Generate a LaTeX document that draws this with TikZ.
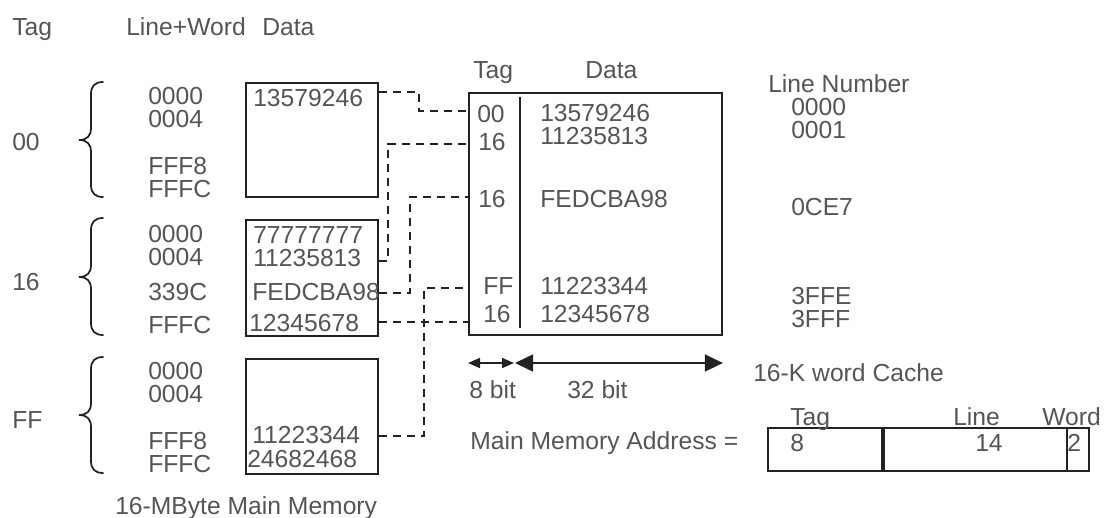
\documentclass[tikz,border=0pt]{standalone}
\usepackage{fontspec}
\setmainfont{Liberation Sans}
\usetikzlibrary{arrows.meta}
\definecolor{ink}{HTML}{555555}
\definecolor{rule}{HTML}{222222}

% left curly brace: top y, tip y, bottom y
\newcommand\curlybrace[3]{%
  \draw[brace] (103,#1) .. controls (95,#1) and (91,#1+4) .. (91,#1+12)
    -- (91,#2-12) .. controls (91,#2-4) and (87,#2) .. (79,#2)
    .. controls (87,#2) and (91,#2+4) .. (91,#2+12)
    -- (91,#3-12) .. controls (91,#3-4) and (95,#3) .. (103,#3);}

\begin{document}
\begin{tikzpicture}[x=0.75pt,y=-0.75pt,
  lbl/.style={anchor=base west, inner sep=0pt, text=ink,
              font=\fontsize{18.5}{20}\selectfont},
  frame/.style={draw=rule, line width=1.4pt, inner sep=0pt, anchor=north west},
  link/.style={draw=rule, line width=1.3pt, dash pattern=on 6pt off 4.5pt},
  brace/.style={draw=rule, line width=1.3pt, line cap=round},
  span/.style={draw=rule, line width=1.2pt},
]
\useasboundingbox[fill=white] (0,0) rectangle (1104,518);

% ---------- column headings ----------
\node[lbl] (hTag)  at (12,35)  {Tag};
\node[lbl] (hLW)   at (126,35) {Line+Word};
\node[lbl] (hData) at (262,35) {Data};

% ---------- tag groups with braces ----------
\node[lbl] (g00) at (12,150) {00};
\node[lbl] (g16) at (12,290) {16};
\node[lbl] (gFF) at (12,428) {FF};
\curlybrace{82}{140}{197}
\curlybrace{218}{277}{335}
\curlybrace{357}{415}{473}

% line+word addresses
\node[lbl] (a1) at (148,104) {0000};
\node[lbl] (a2) at (148,127) {0004};
\node[lbl] (a3) at (148,174) {FFF8};
\node[lbl] (a4) at (148,197) {FFFC};
\node[lbl] (b1) at (148,242) {0000};
\node[lbl] (b2) at (148,265) {0004};
\node[lbl] (b3) at (148,300) {339C};
\node[lbl] (b4) at (148,333) {FFFC};
\node[lbl] (e1) at (148,379) {0000};
\node[lbl] (e2) at (148,402) {0004};
\node[lbl] (e3) at (148,449) {FFF8};
\node[lbl] (e4) at (148,472) {FFFC};

% ---------- main memory blocks ----------
\node[frame, minimum width=99pt, minimum height=85.5pt] (m1) at (245,82) {};
\node[frame, minimum width=99pt, minimum height=87pt]   (m2) at (245,219) {};
\node[frame, minimum width=99pt, minimum height=86.25pt] (m3) at (245,358) {};

\node[lbl] (d1) at (253,106) {13579246};
\node[lbl] (d2) at (253,243) {77777777};
\node[lbl] (d3) at (253,266) {11235813};
\node[lbl] (d4) at (252,300) {FEDCBA98};
\node[lbl] (d5) at (249,331) {12345678};
\node[lbl] (d6) at (252,443) {11223344};
\node[lbl] (d7) at (247,467) {24682468};

\node[lbl] (mmcap) at (115,514) {16-MByte Main Memory};

% ---------- cache ----------
\node[lbl] (cTag)  at (473,78) {Tag};
\node[lbl] (cData) at (585,78) {Data};
\node[frame, minimum width=189.75pt, minimum height=181.5pt] (c) at (468,92) {};
\draw[span, line width=1.4pt] (520,97) -- (520,328);

\node[lbl] (t1) at (477,122) {00};
\node[lbl] (t2) at (478,150) {16};
\node[lbl] (t3) at (478,207) {16};
\node[lbl] (t4) at (483,294) {FF};
\node[lbl] (t5) at (483,322) {16};

\node[lbl] (w1) at (540,121) {13579246};
\node[lbl] (w2) at (540,144) {11235813};
\node[lbl] (w3) at (540,207) {FEDCBA98};
\node[lbl] (w4) at (540,294) {11223344};
\node[lbl] (w5) at (540,322) {12345678};

\node[lbl] (ln)  at (768,92)  {Line Number};
\node[lbl] (n1)  at (791,115) {0000};
\node[lbl] (n2)  at (791,138) {0001};
\node[lbl] (n3)  at (791,215) {0CE7};
\node[lbl] (n4)  at (791,304) {3FFE};
\node[lbl] (n5)  at (791,327) {3FFF};

% ---------- mapping connectors ----------
\coordinate (s1) at (m1.east |- 0,92);
\coordinate (e1c) at (c.west |- 0,111);
\coordinate (s2) at (m2.east |- 0,261);
\coordinate (e2c) at (c.west |- 0,144);
\coordinate (s3) at (m2.east |- 0,293);
\coordinate (e3c) at (c.west |- 0,197);
\coordinate (s4) at (m3.east |- 0,436);
\coordinate (e4c) at (c.west |- 0,288);
\coordinate (s5) at (m2.east |- 0,322);
\coordinate (e5c) at (c.west |- 0,322);

\draw[link] (s1) -- (s1 -| 419,0) |- (e1c);
\draw[link] (s2) -- (s2 -| 388,0) |- (e2c);
\draw[link] (s3) -- (s3 -| 410,0) |- (e3c);
\draw[link] (s4) -- (s4 -| 424,0) |- (e4c);
\draw[link] (s5) -- (e5c);

% ---------- field widths ----------
\coordinate (p0) at (c.south west |- 0,363);
\coordinate (p1) at (514,363);
\coordinate (p2) at (515,363);
\coordinate (p3) at (c.south east |- 0,363);
\draw[span, {Triangle[length=9pt,width=7.5pt]}-{Triangle[length=9pt,width=7.5pt]}] (p0) -- (p1);
\draw[span, {Triangle[length=13.5pt,width=12.75pt]}-{Triangle[length=13.5pt,width=12.75pt]}] (p2) -- (p3);
\node[lbl] (b8)  at (469,398) {8 bit};
\node[lbl] (b32) at (567,398) {32 bit};
\node[lbl] (cc)  at (753,381) {16-K word Cache};

% ---------- address format ----------
\node[lbl] (mma) at (470,449) {Main Memory Address =};
\node[frame, minimum width=85.5pt,  minimum height=32.25pt] (f1) at (767,427) {};
\node[frame, minimum width=137.25pt, minimum height=32.25pt] (f2) at (883,427) {};
\node[frame, minimum width=16.5pt,  minimum height=32.25pt] (f3) at (1066,427) {};
\node[lbl] (fT) at (790,425)  {Tag};
\node[lbl] (fL) at (953,425)  {Line};
\node[lbl] (fW) at (1042,425) {Word};
\node[lbl] (v1) at (790,451)  {8};
\node[lbl] (v2) at (975,451)  {14};
\node[lbl] (v3) at (1067,451) {2};
\end{tikzpicture}
\end{document}
